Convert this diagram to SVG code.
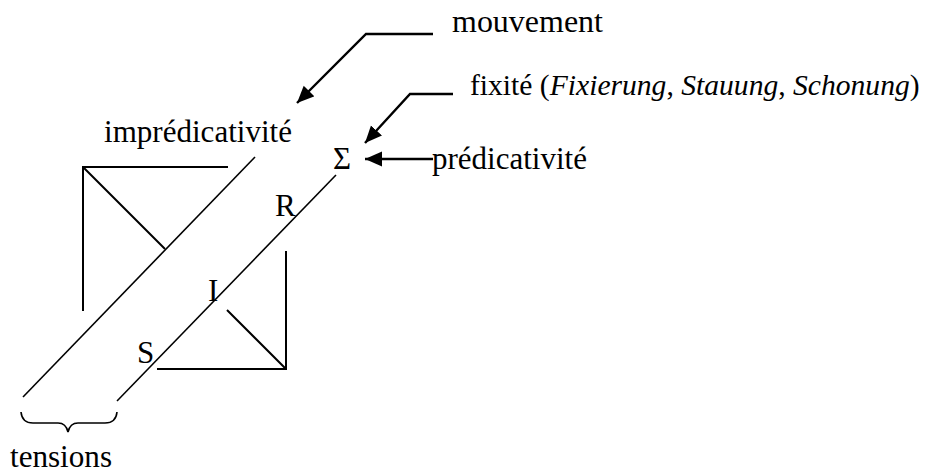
<svg xmlns="http://www.w3.org/2000/svg" width="928" height="474" viewBox="0 0 928 474">
<style>
text{font-family:"Liberation Serif","Times New Roman",serif;font-size:31px;fill:#000}
.it{font-style:italic}
.fx{font-size:29.6px}
.ln{fill:none;stroke:#000;stroke-width:1.6;stroke-linecap:butt}
.sq{fill:none;stroke:#000;stroke-width:2;stroke-linejoin:miter}
.ar{fill:none;stroke:#000;stroke-width:2.4;stroke-linejoin:miter}
</style>
<defs>
<marker id="ah" markerUnits="userSpaceOnUse" markerWidth="18" markerHeight="16" refX="17" refY="7.5" orient="auto">
<path d="M0,0 L17,7.5 L0,15 z" fill="#000"/>
</marker>
</defs>
<g id="connectors">
<line class="ln" x1="255" y1="157" x2="23" y2="397"/>
<line class="ln" x1="336" y1="175" x2="117" y2="401"/>
<path class="sq" d="M228,167 H83 V311 M83,167 L165,249"/>
<path class="sq" d="M286,251 V369 H157 M227,310 L286,369"/>
<path class="ln" d="M21,412 Q22,423 33,423 H58 Q66,423 68,432 Q70,423 78,423 H105 Q116,423 117,412"/>
<polyline class="ar" points="433,34 366,34 297,103" marker-end="url(#ah)"/>
<polyline class="ar" points="453,94 410,94 365,143" marker-end="url(#ah)"/>
<line class="ar" x1="433" y1="159" x2="365" y2="159" marker-end="url(#ah)"/>
</g>
<g id="mouvement"><text x="452" y="32" textLength="151" lengthAdjust="spacingAndGlyphs">mouvement</text></g>
<g id="fixite"><text class="fx" x="470" y="95">fixité (<tspan class="it">Fixierung</tspan>, <tspan class="it">Stauung</tspan>, <tspan class="it">Schonung</tspan>)</text></g>
<g id="impredicativite"><text x="104" y="142" textLength="188" lengthAdjust="spacingAndGlyphs">imprédicativité</text></g>
<g id="sigma"><text x="333" y="169">Σ</text></g>
<g id="predicativite"><text x="432" y="169" textLength="155" lengthAdjust="spacingAndGlyphs">prédicativité</text></g>
<g id="R"><text x="275" y="216">R</text></g>
<g id="I"><text x="208" y="301">I</text></g>
<g id="S"><text x="137" y="363">S</text></g>
<g id="tensions"><text x="10" y="467" textLength="102" lengthAdjust="spacingAndGlyphs">tensions</text></g>
</svg>
